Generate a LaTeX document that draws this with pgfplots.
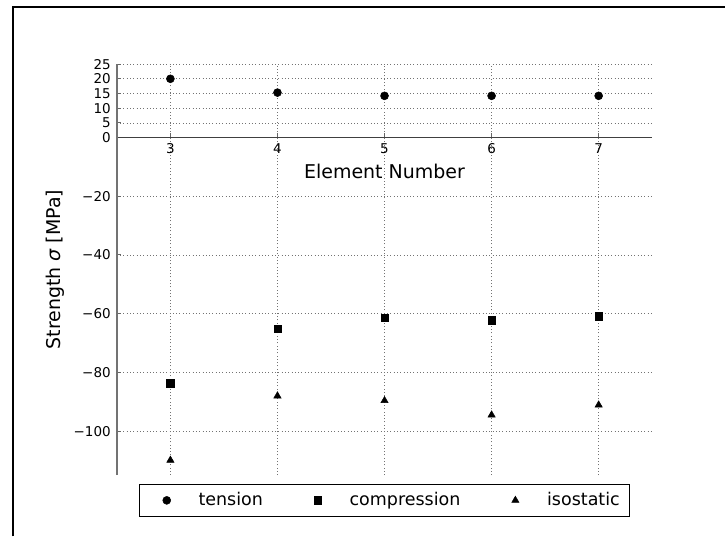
\documentclass[border=0pt]{standalone}
\usepackage{fontspec}
\setmainfont{DejaVu Sans}
\usepackage{pgfplots}
\pgfplotsset{compat=1.18}
\begin{document}
\begin{tikzpicture}
\path (0,0) rectangle (726bp,537bp);
\draw[line width=1.8bp] (13.3bp,0bp) -- (13.3bp,529.7bp) -- (726bp,529.7bp);
\begin{axis}[
  at={(117bp,61.2bp)}, anchor=south west,
  scale only axis, width=536bp, height=411.6bp,
  xmin=2.5, xmax=7.5, ymin=-115, ymax=25,
  axis x line=middle, axis y line=left,
  every inner x axis line/.append style={-},
  every outer x axis line/.append style={-},
  every inner y axis line/.append style={-},
  every outer y axis line/.append style={-},
  x axis line style={-, draw=black!75, line width=1.8bp},
  y axis line style={-, draw=black!55, line width=1.8bp},
  hide obscured x ticks=false, hide obscured y ticks=false,
  xtick={3,4,5,6,7}, xticklabels={3,4,5,6,7},
  ytick={-100,-80,-60,-40,-20,0,5,10,15,20,25},
  yticklabels={−100,−80,−60,−40,−20,0,5,10,15,20,25},
  tick align=inside, major tick length=4.5bp,
  tick style={black!60, line width=1bp},
  ticklabel style={font=\fontsize{13.5bp}{16bp}\selectfont},
  xticklabel style={anchor=base, inner sep=0pt, yshift=-16.3bp},
  yticklabel style={anchor=east, inner sep=0pt, xshift=-6bp},
  grid=major,
  major grid style={black!55, line width=0.6bp, dash pattern=on 1bp off 2.3bp},
  xlabel={Element Number},
  ylabel={Strength {\itshape σ} [MPa]},
  label style={font=\fontsize{19bp}{23bp}\selectfont},
  xlabel style={at={(axis description cs:0.5,0.7228)}, anchor=base},
  ylabel style={at={(axis description cs:-0.1052,0.5)}, anchor=base, rotate=0},
  legend columns=3,
  legend image code/.code={\path[draw=none,fill=none] (0bp,0bp) -- (49.3bp,0bp); \draw[#1, only marks] plot coordinates {(17.5bp,0bp)};},
  legend style={at={(axis description cs:0.5,-0.0612)}, anchor=center,
    font=\fontsize{17.5bp}{21bp}\selectfont,
    draw=black, line width=0.9bp, fill=white,
    inner xsep=9.4bp, inner ysep=8.6bp,
    column sep=0pt,
    cells={anchor=center},
    nodes={inner sep=0pt, text height=13bp, text depth=2bp}},
  clip=false,
]
\addplot[only marks, mark=*, mark size=4bp, black, mark options={fill=black, line width=0.5bp}]
  coordinates {(3,20) (4,15.3) (5,14.2) (6,14.2) (7,14.2)};
\addlegendentry{tension\rule{37.5bp}{0pt}}
\addplot[only marks, mark=square*, mark size=3.7bp, black, mark options={fill=black, line width=0.5bp}]
  coordinates {(3,-83.7) (4,-65.1) (5,-61.4) (6,-62.2) (7,-60.9)};
\addlegendentry{compression\rule{37.5bp}{0pt}}
\addplot[only marks, mark=triangle*, mark size=4.2bp, black, mark options={fill=black, line width=0.5bp}]
  coordinates {(3,-109.9) (4,-88.0) (5,-89.6) (6,-94.5) (7,-91.1)};
\addlegendentry{isostatic}
\end{axis}
\end{tikzpicture}
\end{document}
